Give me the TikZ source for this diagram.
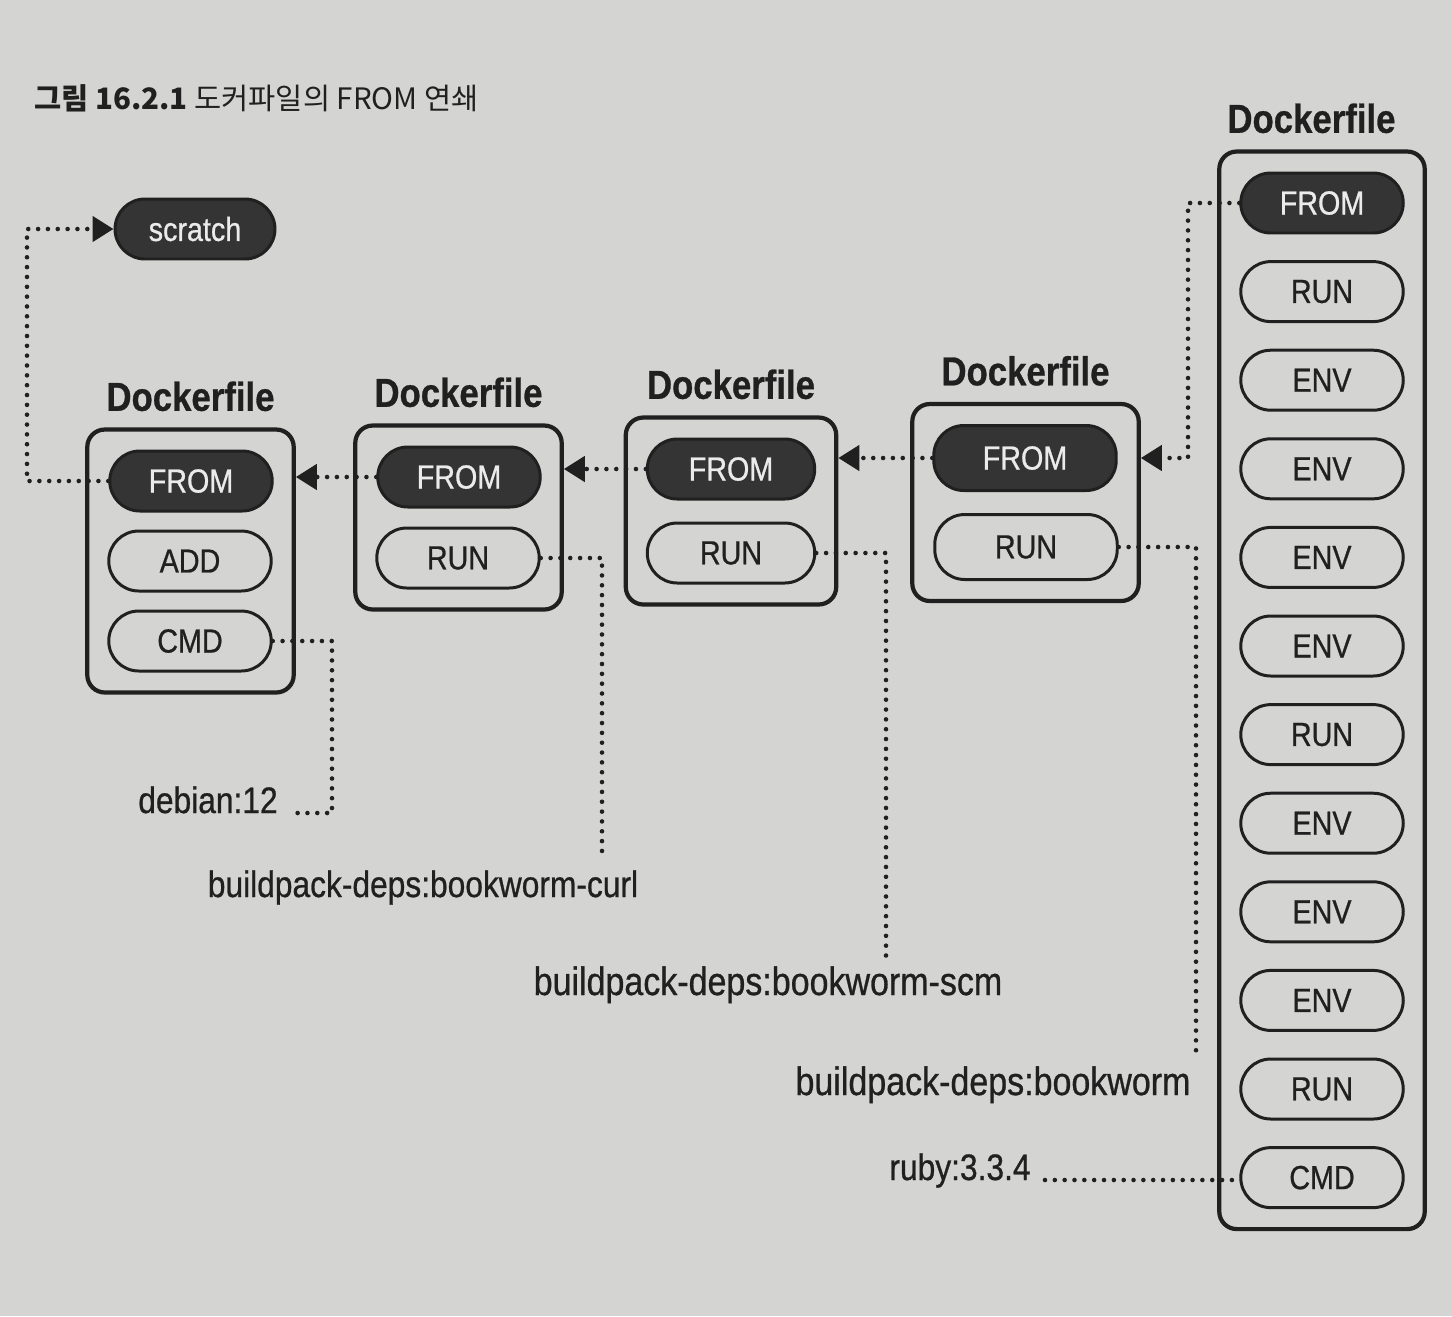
\documentclass[tikz,border=0pt]{standalone}
\usepackage{fontspec}
\setmainfont{Liberation Sans}[FakeStretch=0.86, FakeBold=0.7]
\newfontfamily\kr{Noto Sans CJK KR}
\usetikzlibrary{arrows.meta,fit,positioning}
\definecolor{paper}{RGB}{212,212,210}
\definecolor{ink}{RGB}{32,32,32}
\definecolor{dark}{RGB}{52,52,52}
\tikzset{
  pill/.style={draw=ink, line width=1.7pt, rounded corners=0.6cm, minimum width=3.25cm, minimum height=1.2cm, font=\fontsize{19}{19}\selectfont, text=ink},
  frompill/.style={pill, fill=dark, text=white!92!black},
  dfile/.style={draw=ink, line width=2.4pt, rounded corners=0.35cm, inner sep=0.4cm},
  hdr/.style={font=\fontsize{23}{23}\selectfont\bfseries, text=ink},
  lbl/.style={font=\fontsize{21}{21}\selectfont, text=ink, inner xsep=8pt},
  dots/.style={draw=ink, line width=2.6pt, line cap=round, dash pattern=on 0pt off 5.6pt},
  chain/.style={dots, -{Triangle[length=0.42cm, width=0.5cm]}}
}
\begin{document}
\begin{tikzpicture}[x=0.02cm, y=-0.02cm]
\fill[paper] (0,0) rectangle (1452,1316);
\useasboundingbox (0,0) rectangle (1452,1316);

\node[anchor=west, font=\kr\fontsize{16.8}{16.8}\selectfont, text=ink] (ttl) at (28,98) {{\bfseries 그림 16.2.1} 도커파일의 FROM 연쇄};

\node[frompill, minimum width=3.2cm] (scr) at (195,229) {scratch};

% first Dockerfile
\node[frompill] (f1) at (191,481) {FROM};
\node[pill] (a1) at (190,561) {ADD};
\node[pill] (c1) at (190,641) {CMD};
\node[dfile, fit=(f1)(a1)(c1)] (d1) {};
\node[hdr, above=0.2cm of d1] (h1) {Dockerfile};

\node[frompill] (f2) at (459,477) {FROM};
\node[pill] (u2) at (458,558) {RUN};
\node[dfile, fit=(f2)(u2)] (d2) {};
\node[hdr, above=0.2cm of d2] (h2) {Dockerfile};

\node[frompill, minimum width=3.35cm] (f3) at (731,469) {FROM};
\node[pill, minimum width=3.35cm] (u3) at (731,553) {RUN};
\node[dfile, fit=(f3)(u3)] (d3) {};
\node[hdr, above=0.2cm of d3] (h3) {Dockerfile};

\node[frompill, minimum width=3.65cm, minimum height=1.3cm] (f4) at (1025,458) {FROM};
\node[pill, minimum width=3.65cm, minimum height=1.3cm] (u4) at (1026,547) {RUN};
\node[dfile, fit=(f4)(u4)] (d4) {};
\node[hdr, above=0.2cm of d4] (h4) {Dockerfile};

% ruby Dockerfile
\node[frompill] (r1) at (1322,203) {FROM};
\foreach \cmd [count=\i from 2] in {RUN,ENV,ENV,ENV,ENV,RUN,ENV,ENV,ENV,RUN,CMD}
  \node[pill] (r\i) at (1322,{203+(\i-1)*88.6}) {\cmd};
\node[dfile, fit=(r1)(r12)] (d5) {};
\node[hdr, above=0.2cm of d5, xshift=-6pt] (h5) {Dockerfile};

\node[lbl, anchor=base] (deb) at (208,813) {debian:12};
\node[lbl, anchor=base] (cur) at (423,897) {buildpack-deps:bookworm-curl};
\node[lbl, anchor=base, font=\fontsize{22.5}{22.5}\selectfont] (scm) at (768,995) {buildpack-deps:bookworm-scm};
\node[lbl, anchor=base, font=\fontsize{22.5}{22.5}\selectfont] (bkw) at (993,1095) {buildpack-deps:bookworm};
\node[lbl, anchor=base] (rby) at (960,1180) {ruby:3.3.4};

\coordinate (lc) at (27,481);
\coordinate (rc) at (1188,458);
\coordinate (e1) at (332,0);
\coordinate (e2) at (602,852);
\coordinate (e3) at (886,958);
\coordinate (e4) at (1196,1056);

\draw[chain] (f1.west) -- (lc) |- (scr.west);
\draw[chain] (f2.west) -- (f2.west -| d1.east);
\draw[chain] (f3.west) -- (f3.west -| d2.east);
\draw[chain] (f4.west) -- (f4.west -| d3.east);
\draw[chain] (r1.west) -| (rc) -- (rc -| d4.east);

\draw[dots] (c1.east) -| (deb.base east -| e1) -- (deb.base east);
\draw[dots] (u2.east) -| (e2);
\draw[dots] (u3.east) -| (e3);
\draw[dots] (u4.east) -| (e4);
\draw[dots] (rby.base east) -- (rby.base east -| r12.west);
\end{tikzpicture}
\end{document}
